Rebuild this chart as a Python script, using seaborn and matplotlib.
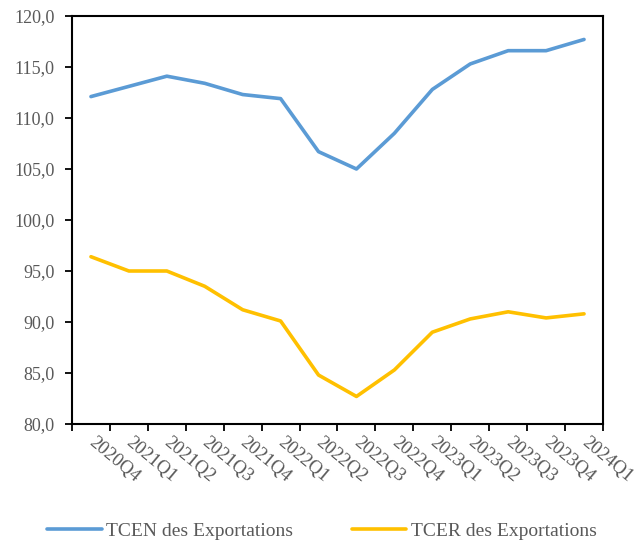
import matplotlib
matplotlib.use("Agg")
import matplotlib.pyplot as plt
import matplotlib.transforms as mtransforms
import numpy as np
import pandas as pd
import seaborn as sns
from matplotlib.ticker import FixedLocator, FuncFormatter

quarters = ["2020Q4", "2021Q1", "2021Q2", "2021Q3", "2021Q4", "2022Q1", "2022Q2",
            "2022Q3", "2022Q4", "2023Q1", "2023Q2", "2023Q3", "2023Q4", "2024Q1"]
tcen = [112.1, 113.1, 114.1, 113.4, 112.3, 111.9, 106.7,
        105.0, 108.5, 112.8, 115.3, 116.6, 116.6, 117.7]
tcer = [96.4, 95.0, 95.0, 93.5, 91.2, 90.1, 84.8,
        82.7, 85.3, 89.0, 90.3, 91.0, 90.4, 90.8]
series = ["TCEN des Exportations", "TCER des Exportations"]
colors = ["#5B9BD5", "#FFC000"]

df = pd.DataFrame({
    "pos": list(range(len(quarters))) * 2,
    "val": tcen + tcer,
    "serie": [series[0]] * len(quarters) + [series[1]] * len(quarters),
})

sns.set_style("white")
plt.rcParams["font.family"] = ["Liberation Serif", "DejaVu Serif"]

fig = plt.figure(figsize=(6.44, 5.42), dpi=100)
ax = fig.add_axes([72 / 644, 1 - 424 / 542, 531 / 644, 408 / 542])

sns.lineplot(data=df, x="pos", y="val", hue="serie", palette=colors,
             linewidth=2.6, ax=ax, legend=True)

ax.set_xlim(-0.5, len(quarters) - 0.5)
ax.set_ylim(80, 120)
ax.set_yticks(np.arange(80, 121, 5))
ax.yaxis.set_major_formatter(FuncFormatter(lambda v, p: f"{v:.1f}".replace(".", ",")))
ax.tick_params(axis="y", direction="out", length=5, width=1.3, color="black",
               labelsize=13, labelcolor="#595959", left=True, pad=7.5)

ax.xaxis.set_major_locator(FixedLocator(np.arange(-0.5, len(quarters), 1)))
ax.xaxis.set_major_formatter(FuncFormatter(lambda v, p: ""))
ax.set_xticks(np.arange(len(quarters)), minor=True)
ax.set_xticklabels(quarters, minor=True, rotation=-40, ha="left", va="top",
                   rotation_mode="anchor")
ax.tick_params(axis="x", which="major", direction="out", length=5, width=1.3,
               color="black", bottom=True)
ax.tick_params(axis="x", which="minor", length=0, labelsize=13.5,
               labelcolor="#595959", pad=7)
shift = mtransforms.ScaledTranslation(5 / 100, 0, fig.dpi_scale_trans)
for lbl in ax.get_xticklabels(minor=True):
    lbl.set_transform(lbl.get_transform() + shift)

for s in ax.spines.values():
    s.set_visible(True)
    s.set_color("black")
    s.set_linewidth(1.5)

ax.set_xlabel("")
ax.set_ylabel("")

handles, labels = ax.get_legend_handles_labels()
ax.legend_.remove()
fig.legend(handles, labels, loc="center", bbox_to_anchor=(322 / 644, 1 - 531 / 542),
           ncol=2, frameon=False, fontsize=14, columnspacing=3.0,
           handlelength=2.8, handletextpad=0.25, labelcolor="#595959")

fig.savefig("out.png", dpi=100)
